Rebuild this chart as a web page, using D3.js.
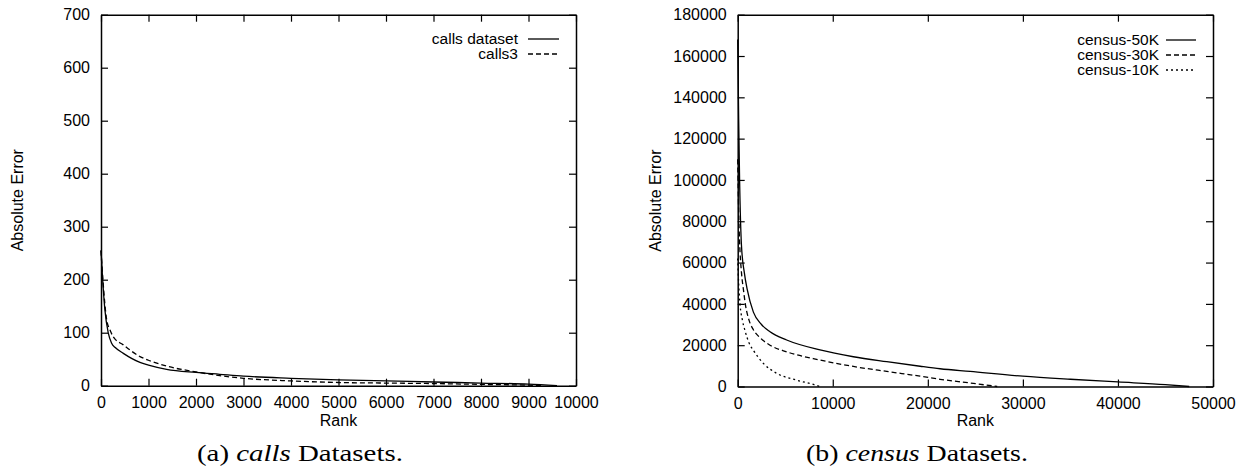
<!DOCTYPE html>
<html><head><meta charset="utf-8">
<script src="https://cdn.jsdelivr.net/npm/d3@7"></script>
<style>
body{margin:0;background:#fff;}
svg{display:block;}
.tick text{font-family:"Liberation Sans",Arial,sans-serif;font-size:16px;fill:#000;}
.lbl{font-family:"Liberation Sans",Arial,sans-serif;font-size:16px;fill:#000;}
.leg{font-family:"Liberation Sans",Arial,sans-serif;font-size:15.5px;fill:#000;}
.cap{font-family:"Liberation Serif","Times New Roman",serif;font-size:23px;fill:#000;}
</style></head>
<body>
<script>
// ---- data ----
const callsXTicks = [0,1000,2000,3000,4000,5000,6000,7000,8000,9000,10000];
const callsYTicks = [0,100,200,300,400,500,600,700];
const callsSeriesNames = ["calls dataset","calls3"];
const callsDataset = [[0,255],[35,200],[80,145],[154,99],[224,80],[300,72],[470,61],[820,44],[1000,39],[1380,31],[2000,25],[2500,21.5],[3000,18],[4000,14],[5000,11],[6000,9],[7000,7],[8000,5],[9000,3],[9600,0]];
const calls3 = [[0,255],[40,200],[120,124],[190,105],[260,92],[470,77],[820,55],[1000,48],[1380,37],[2000,26],[2500,19],[3000,14],[4000,9],[5000,6],[6000,5],[7000,4],[8000,2.5],[9000,1],[9300,0]];

const censusXTicks = [0,10000,20000,30000,40000,50000];
const censusYTicks = [0,20000,40000,60000,80000,100000,120000,140000,160000,180000];
const censusSeriesNames = ["census-50K","census-30K","census-10K"];
const census50K = [[0,168000],[100,130000],[200,100000],[400,68000],[700,55000],[1000,47000],[1650,36000],[2500,30000],[3400,26500],[5150,22500],[8660,17700],[12170,14400],[15680,12000],[19190,9800],[21290,8600],[24450,7300],[30000,5000],[35000,3500],[40000,2200],[45000,900],[47500,0]];
const census30K = [[0,110000],[100,85000],[200,70000],[400,55000],[600,47000],[800,40000],[1200,32000],[1650,27500],[2500,23000],[3400,20000],[5150,16800],[8660,12800],[12170,9700],[15680,7300],[19190,5000],[21290,3500],[24450,1700],[27300,0]];
const census10K = [[0,62000],[100,50000],[240,40000],[500,32000],[770,27000],[1200,21000],[1650,17500],[2700,11200],[4100,6400],[6200,3100],[8300,500],[8600,0]];

const W = 1248, H = 469;
const svg = d3.select("body").append("svg").attr("width",W).attr("height",H);

function panel(o){
  const x = d3.scaleLinear().domain(o.xDomain).range([o.left,o.right]);
  const y = d3.scaleLinear().domain(o.yDomain).range([o.bottom,o.top]);
  const g = svg.append("g");
  const ax = (sel)=>{sel.select(".domain").attr("stroke","#000").attr("stroke-width",1.5);
    sel.selectAll(".tick line").attr("stroke","#000").attr("stroke-width",1.2);};
  g.append("g").attr("transform",`translate(0,${o.bottom})`)
    .call(d3.axisBottom(x).tickValues(o.xTicks).tickFormat(d3.format("d")).tickSizeInner(-7).tickSizeOuter(0).tickPadding(11)).call(ax);
  g.append("g").attr("transform",`translate(0,${o.top})`)
    .call(d3.axisTop(x).tickValues(o.xTicks).tickFormat("").tickSizeInner(-7).tickSizeOuter(0)).call(ax);
  g.append("g").attr("transform",`translate(${o.left},0)`)
    .call(d3.axisLeft(y).tickValues(o.yTicks).tickFormat(d3.format("d")).tickSizeInner(-7).tickSizeOuter(0).tickPadding(11)).call(ax);
  g.append("g").attr("transform",`translate(${o.right},0)`)
    .call(d3.axisRight(y).tickValues(o.yTicks).tickFormat("").tickSizeInner(-7).tickSizeOuter(0)).call(ax);
  g.selectAll(".tick text").attr("font-family",null).attr("font-size",null);

  const line = d3.line().x(d=>x(d[0])).y(d=>y(d[1])).curve(d3.curveMonotoneX);
  o.series.forEach((s,i)=>{
    g.append("path").datum(s.data).attr("d",line).attr("fill","none")
      .attr("stroke","#000").attr("stroke-width",1.3).attr("stroke-dasharray",s.dash);
    const ly = o.legY + i*o.legStep;
    g.append("text").attr("class","leg").attr("x",o.legTextX).attr("y",ly).attr("dy","0.35em")
      .attr("text-anchor","end").text(s.name);
    g.append("line").attr("x1",o.legX1).attr("x2",o.legX2).attr("y1",ly).attr("y2",ly)
      .attr("stroke","#000").attr("stroke-width",1.3).attr("stroke-dasharray",s.dash);
  });
  g.append("text").attr("class","lbl").attr("x",(o.left+o.right)/2).attr("y",420).attr("dy","0.35em")
    .attr("text-anchor","middle").text("Rank");
  g.append("text").attr("class","lbl").attr("transform",`translate(${o.yLabelX},${(o.top+o.bottom)/2}) rotate(-90)`)
    .attr("dy","0.35em").attr("text-anchor","middle").text("Absolute Error");
  const cap = g.append("text").attr("class","cap").attr("y",453).attr("dy","0.35em").attr("x",0);
  cap.append("tspan").text(o.cap[0]);
  cap.append("tspan").attr("font-style","italic").text(o.cap[1]);
  cap.append("tspan").text(o.cap[2]);
  const w = cap.node().getComputedTextLength();
  const sx = o.capW / w;
  cap.attr("transform",`translate(${o.capCx - o.capW/2},0) scale(${sx},1)`);
}

panel({left:101,right:576,top:14.7,bottom:385.7,xDomain:[0,10000],yDomain:[0,700],
  xTicks:callsXTicks,yTicks:callsYTicks,
  series:[{name:callsSeriesNames[0],data:callsDataset,dash:null},{name:callsSeriesNames[1],data:calls3,dash:"5,3"}],
  legY:39,legStep:15,legTextX:518,legX1:528,legX2:559,yLabelX:17,
  cap:["(a) ","calls"," Datasets."],capCx:300,capW:206});

panel({left:737.7,right:1213,top:14.7,bottom:386.5,xDomain:[0,50000],yDomain:[0,180000],
  xTicks:censusXTicks,yTicks:censusYTicks,
  series:[{name:censusSeriesNames[0],data:census50K,dash:null},{name:censusSeriesNames[1],data:census30K,dash:"5,3"},{name:censusSeriesNames[2],data:census10K,dash:"2,3"}],
  legY:40,legStep:15,legTextX:1159,legX1:1166,legX2:1196,yLabelX:655,
  cap:["(b) ","census"," Datasets."],capCx:917,capW:222});
</script>
</body></html>
